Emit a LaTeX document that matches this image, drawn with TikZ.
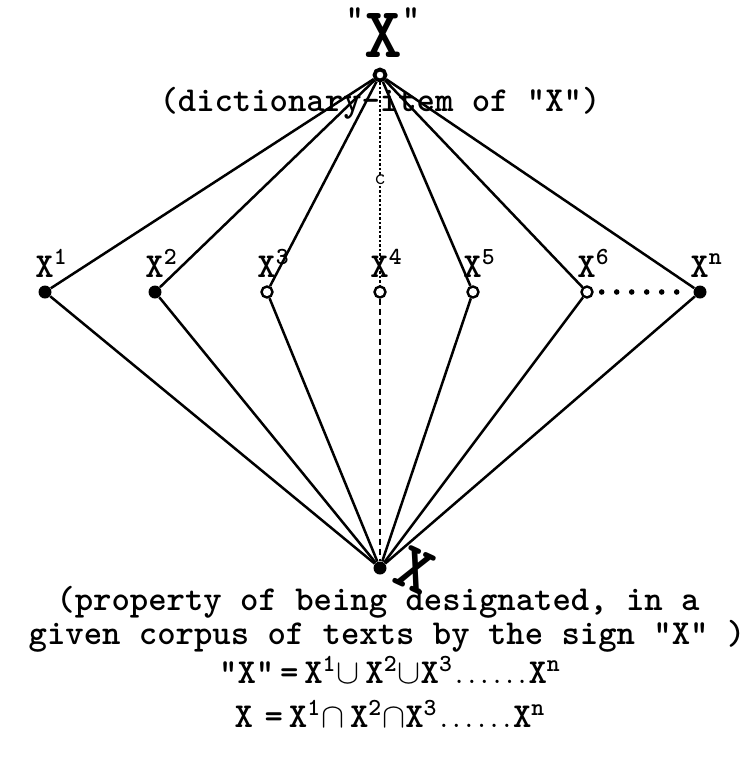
\documentclass[tikz,border=0pt]{standalone}
\usepackage{fontspec}
\usetikzlibrary{positioning}
\newcommand{\sixdots}{{\fontsize{12}{12}\selectfont\bfseries......}}
\tikzset{
  full/.style={circle,fill,inner sep=0pt,minimum size=6.5pt},
  hollow/.style={circle,draw,line width=1.2pt,inner sep=0pt,minimum size=5.5pt},
  lbl/.style={font=\ttfamily\bfseries\fontsize{17.5}{19}\selectfont,inner sep=0pt},
  edge/.style={line width=1.25pt},
}
\begin{document}
\begin{tikzpicture}[x=0.5pt,y=-0.5pt]
    \useasboundingbox (0,0) rectangle (745,762);

    % Draw the dictionary item at the top
    \node[hollow,line width=1.9pt] (top) at (380,75) {};
    \node[lbl] (sign) at (383,33) {\raisebox{14pt}{"}{\fontsize{36}{36}\selectfont X}\raisebox{14pt}{"}};
    \node[lbl] (dict) at (380,103) {(dictionary-item of "X")};

    % Draw the occurrences x^1 ... x^n
    \foreach \n/\x/\s in {1/45/full,2/155/full,3/267/hollow,4/380/hollow,5/473/hollow,6/587/hollow,n/700/full} {
        \node[\s] (x\n) at (\x,292) {};
        \node[lbl,anchor=base west] (l\n) at (\x-10,277) {X\textsuperscript{\n}};
    }

    % Draw the property at the bottom
    \node[full] (bot) at (380,568) {};
    \node[lbl,font=\ttfamily\bfseries\fontsize{34}{34}\selectfont,rotate=-25] (mark) at (415,570) {X};

    % Connect top and bottom with every occurrence
    \foreach \n in {1,2,3,5,6,n} {
        \draw[edge] (top) -- (x\n);
        \draw[edge] (x\n) -- (bot);
    }
    \draw[edge,densely dotted] (top) -- (x4);
    \draw[edge,densely dashed] (x4) -- (bot);
    \node[lbl,font=\ttfamily\fontsize{11}{11}\selectfont,fill=white] (tick) at (380,180) {c};
    \draw[line width=2.8pt,line cap=round,dash pattern=on 0pt off 7.5pt,shorten <=4pt,shorten >=2pt] (x6) -- (xn);

    % Add the captions and formulas
    \node[lbl] (prop1) at (378,602) {(property of being designated, in a};
    \node[lbl] (prop2) at (387,636) {given corpus of texts by the sign "X" )};
    \node[lbl] (union) at (390,670) {"X"\,=\,X\textsuperscript{1}$\cup$\,X\textsuperscript{2}$\cup$X\textsuperscript{3}\sixdots X\textsuperscript{n}};
    \node[lbl] (inter) at (390,714) {X\,\,=\,X\textsuperscript{1}$\cap$\,X\textsuperscript{2}$\cap$X\textsuperscript{3}\sixdots X\textsuperscript{n}};
\end{tikzpicture}
\end{document}
